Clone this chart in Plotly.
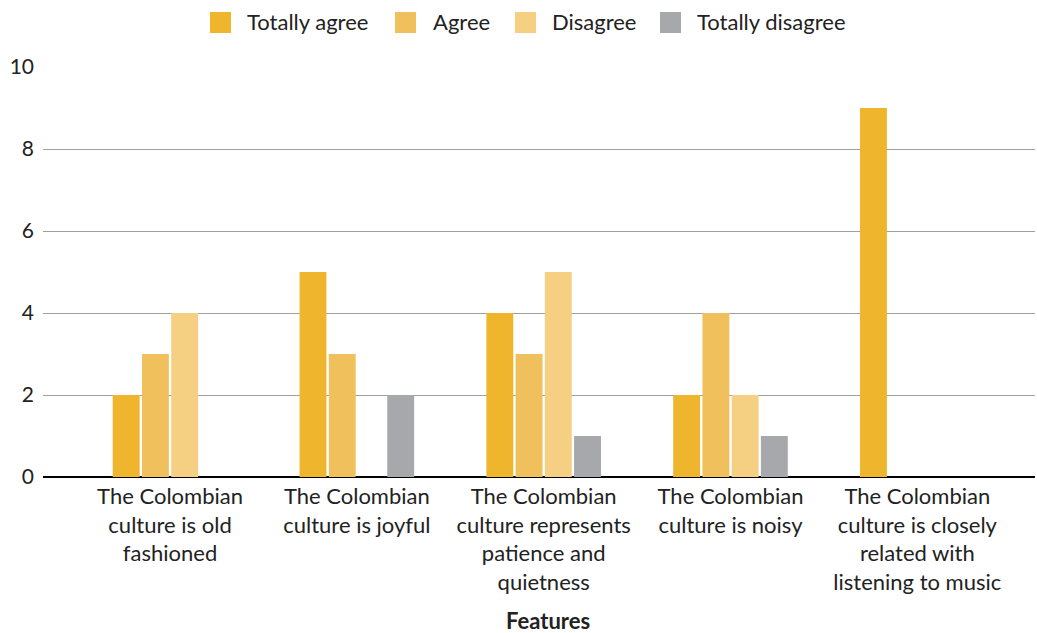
import plotly.graph_objects as go

categories = [
    "The Colombian<br>culture is old<br>fashioned",
    "The Colombian<br>culture is joyful",
    "The Colombian<br>culture represents<br>patience and<br>quietness",
    "The Colombian<br>culture is noisy",
    "The Colombian<br>culture is closely<br>related with<br>listening to music",
]
totally_agree = [2, 5, 4, 2, 9]
agree = [3, 3, 3, 4, 0]
disagree = [4, 0, 5, 2, 0]
totally_disagree = [0, 2, 1, 1, 0]
x_title = "Features"

series = [
    ("Totally agree", totally_agree, "#EFB52D"),
    ("Agree", agree, "#F0C05C"),
    ("Disagree", disagree, "#F5CF82"),
    ("Totally disagree", totally_disagree, "#A7A8AB"),
]

# plot area in pixels (for legend placement)
L, R, T, B = 43, 1035, 67, 477
W, H = R - L, B - T
def px(x):
    return (x - L) / W
def py(y):
    return (B - y) / H

legend_swatch_x = [210, 395, 515, 660]
legend_text_x = [245, 431, 550, 695]

xidx = list(range(len(categories)))
fig = go.Figure()
for name, vals, col in series:
    fig.add_trace(go.Bar(x=xidx, y=vals, name=name, showlegend=False,
                         marker=dict(color=col, line=dict(width=0))))

for (name, vals, col), sx, tx in zip(series, legend_swatch_x, legend_text_x):
    fig.add_shape(type="rect", xref="paper", yref="paper",
                  x0=px(sx), x1=px(sx + 21), y0=py(33), y1=py(12),
                  fillcolor=col, line=dict(width=0))
    fig.add_annotation(xref="paper", yref="paper", x=px(tx), y=py(22),
                       xanchor="left", yanchor="middle", text=name, showarrow=False,
                       font=dict(size=22))

fig.add_annotation(xref="paper", yref="paper", x=px(548), y=py(620),
                   xanchor="center", yanchor="middle", text=f"<b>{x_title}</b>",
                   showarrow=False, font=dict(size=22))

fig.update_layout(
    width=1037, height=633,
    margin=dict(l=L, r=1037 - R, t=T, b=633 - B),
    paper_bgcolor="white", plot_bgcolor="white",
    barmode="group", bargap=0.374, bargroupgap=0.08,
    font=dict(family="Lato, Noto Sans, sans-serif", size=22, color="#222"),
    showlegend=False,
    xaxis=dict(
        tickmode="array", tickvals=xidx, ticktext=categories,
        range=[-0.68, 4.63], showgrid=False, ticks="", showline=False,
        ticklabelstandoff=4, automargin=False,
    ),
    yaxis=dict(range=[0, 10], dtick=2, showgrid=True, gridcolor="#A0A0A0", gridwidth=1,
               zeroline=True, zerolinecolor="#000", zerolinewidth=1.5, ticks="",
               automargin=False,
               ticklabelstandoff=8, tickfont=dict(size=21)),
)
fig.write_html("out.html")
